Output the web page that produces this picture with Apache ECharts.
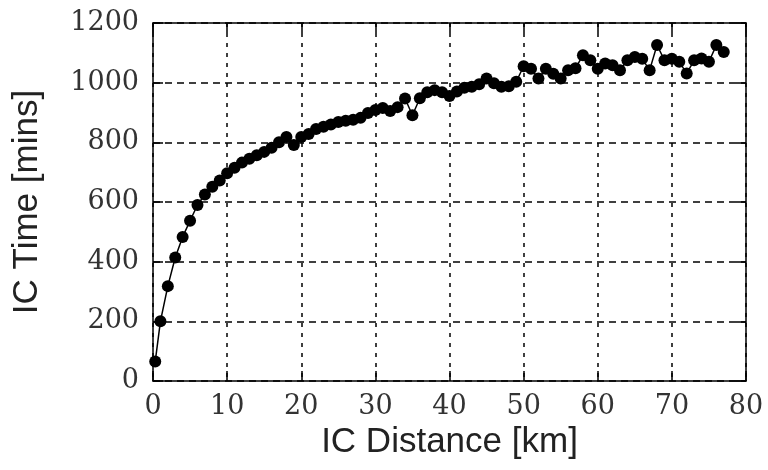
<!DOCTYPE html>
<html>
<head>
<meta charset="utf-8">
<script src="https://cdn.jsdelivr.net/npm/echarts@6/dist/echarts.min.js"></script>
<style>
html,body{margin:0;padding:0;background:#fff;}
#chart{width:768px;height:470px;}
</style>
</head>
<body>
<div id="chart"></div>
<script>
const distances = [0.3,1,2,3,4,5,6,7,8,9,10,11,12,13,14,15,16,17,18,19,20,21,22,23,24,25,26,27,28,29,30,31,32,33,34,35,36,37,38,39,40,41,42,43,44,45,46,47,48,49,50,51,52,53,54,55,56,57,58,59,60,61,62,63,64,65,66,67,68,69,70,71,72,73,74,75,76,77];
const times = [65,200,318,414,483,537,590,625,651,672,696,715,732,745,757,768,782,800,818,791,818,828,845,852,860,868,872,876,882,898,908,915,905,918,947,891,948,968,975,968,955,970,983,986,995,1014,998,986,988,1003,1055,1047,1014,1047,1030,1014,1042,1048,1092,1075,1047,1064,1058,1042,1075,1086,1080,1042,1126,1075,1080,1070,1031,1075,1081,1070,1126,1103];
const xTicks = [0,10,20,30,40,50,60,70,80];
const yTicks = [0,200,400,600,800,1000,1200];
const xTitle = 'IC Distance [km]';
const yTitle = 'IC Time [mins]';

const points = distances.map((d, i) => [d, times[i]]);
const labelFont = {fontFamily: 'DejaVu Serif', fontSize: 27, color: '#333'};
const titleFont = {fontFamily: 'Liberation Sans', fontSize: 35, color: '#222'};
const dashX = {show: true, lineStyle: {color: '#000', width: 1.5, type: [4, 6]}};
const dashY = {show: true, lineStyle: {color: '#000', width: 1.5, type: [7, 5]}};
const lineS = {show: true, onZero: false, lineStyle: {color: '#000', width: 1.5}};
const tickS = {show: true, inside: true, length: 10, lineStyle: {color: '#000', width: 1.5}};
const plain = v => String(v);

const chart = echarts.init(document.getElementById('chart'), null, {renderer: 'canvas'});
chart.setOption({
  animation: false,
  backgroundColor: '#fff',
  grid: {left: 153, right: 22, top: 23, bottom: 89, containLabel: false},
  xAxis: [{
    type: 'value', min: xTicks[0], max: xTicks[xTicks.length - 1], interval: 10,
    position: 'bottom',
    name: xTitle, nameLocation: 'middle', nameGap: 44, nameTextStyle: titleFont,
    axisLine: lineS, axisTick: tickS, splitLine: dashX,
    axisLabel: Object.assign({margin: 12, formatter: plain}, labelFont)
  }, {
    type: 'value', min: xTicks[0], max: xTicks[xTicks.length - 1], interval: 10,
    position: 'top', axisLine: lineS, axisTick: tickS, axisLabel: {show: false}, splitLine: {show: false}
  }],
  yAxis: [{
    type: 'value', min: yTicks[0], max: yTicks[yTicks.length - 1], interval: 200,
    position: 'left',
    name: yTitle, nameLocation: 'middle', nameGap: 108, nameTextStyle: titleFont,
    axisLine: lineS, axisTick: tickS, splitLine: dashY,
    axisLabel: Object.assign({margin: 14, formatter: plain}, labelFont)
  }, {
    type: 'value', min: yTicks[0], max: yTicks[yTicks.length - 1], interval: 200,
    position: 'right', axisLine: lineS, axisTick: tickS, axisLabel: {show: false}, splitLine: {show: false}
  }],
  series: [{
    type: 'line',
    data: points,
    xAxisIndex: 0, yAxisIndex: 0,
    symbol: 'circle', symbolSize: 12,
    showAllSymbol: true,
    itemStyle: {color: '#000'},
    lineStyle: {color: '#000', width: 1.5},
    z: 5
  }]
});
</script>
</body>
</html>
